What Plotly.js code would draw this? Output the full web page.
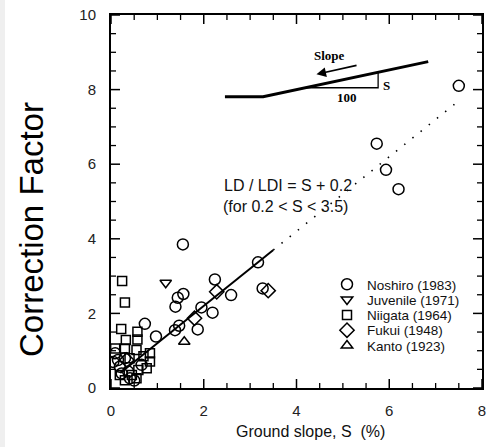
<!DOCTYPE html>
<html>
<head>
<meta charset="utf-8">
<script src="https://cdn.plot.ly/plotly-3.0.1.min.js"></script>
<style>
  html, body { margin: 0; padding: 0; background: #efefef; }
  #chart { position: absolute; left: 5px; top: 0; width: 484px; height: 447px; background: #fff; }
</style>
</head>
<body>
<div id="chart"></div>
<script>
// ---- Data ----
const noshiroX = [7.5, 5.73, 5.93, 6.2, 1.55, 3.17, 2.24, 1.56, 1.44, 1.39, 2.59, 1.95, 2.19, 3.27, 1.47, 1.38, 1.87, 0.97, 0.73, 0.09, 0.05, 0.19, 0.23, 0.37, 0.41, 0.66, 0.3, 0.15, 0.5];
const noshiroY = [8.1, 6.55, 5.85, 5.33, 3.85, 3.37, 2.91, 2.52, 2.42, 2.18, 2.49, 2.16, 2.02, 2.67, 1.67, 1.55, 1.57, 1.38, 1.72, 0.93, 0.7, 0.57, 0.39, 0.44, 0.26, 0.62, 0.8, 0.75, 0.2];

const juvenileX = [1.18];
const juvenileY = [2.82];

const niigataX = [0.24, 0.3, 0.22, 0.57, 0.32, 0.57, 0.09, 0.3, 0.55, 0.84, 0.84, 0.77, 0.59, 0.45, 0.19, 0.55, 0.3, 0.4, 0.7];
const niigataY = [2.87, 2.29, 1.58, 1.51, 1.29, 1.3, 1.06, 1.06, 1.02, 0.93, 0.71, 0.53, 0.48, 0.35, 0.35, 0.26, 0.21, 0.8, 0.85];

const fukuiX = [3.39, 2.28, 1.8, 0.34];
const fukuiY = [2.61, 2.58, 1.87, 0.75];

const kantoX = [1.58];
const kantoY = [1.24];

// LD / LDI = S + 0.2 (solid within 0.2 < S < 3.5, dotted beyond)
const fitX = [0.2, 3.5];
const fitY = [0.4, 3.7];
const extX = [3.5, 7.5];
const extY = [3.7, 7.7];

const seriesNames = ["Noshiro (1983)", "Juvenile (1971)", "Niigata (1964)", "Fukui (1948)", "Kanto (1923)"];
const xTickVals = [0, 2, 4, 6, 8];
const yTickVals = [0, 2, 4, 6, 8, 10];
const xMinorVals = [0.5, 1, 1.5, 2.5, 3, 3.5, 4.5, 5, 5.5, 6.5, 7, 7.5];
const yMinorVals = [0.5, 1, 1.5, 2.5, 3, 3.5, 4.5, 5, 5.5, 6.5, 7, 7.5, 8.5, 9, 9.5];

// ---- Plot ----
const mk = (sym, size) => ({ symbol: sym, size: size, color: "#000", line: { color: "#000", width: 1.5 } });
const legendIds = ["legend", "legend2", "legend3", "legend4", "legend5"];

const traces = [
  { x: fitX, y: fitY, mode: "lines", line: { color: "#000", width: 2 }, showlegend: false, hoverinfo: "skip" },
  { x: extX, y: extY, mode: "lines", line: { color: "#000", width: 1.6, dash: "1.5px,9px" }, showlegend: false, hoverinfo: "skip" },
  { x: noshiroX, y: noshiroY, mode: "markers", name: seriesNames[0], legend: legendIds[0], marker: mk("circle-open", 11) },
  { x: juvenileX, y: juvenileY, mode: "markers", name: seriesNames[1], legend: legendIds[1], marker: mk("triangle-down-open", 10) },
  { x: niigataX, y: niigataY, mode: "markers", name: seriesNames[2], legend: legendIds[2], marker: mk("square-open", 9) },
  { x: fukuiX, y: fukuiY, mode: "markers", name: seriesNames[3], legend: legendIds[3], marker: mk("diamond-open", 11) },
  { x: kantoX, y: kantoY, mode: "markers", name: seriesNames[4], legend: legendIds[4], marker: mk("triangle-up-open", 10) }
];

const sans = "Liberation Sans, Arial, sans-serif";
const serif = "Liberation Serif, Times New Roman, serif";

const axisCommon = {
  showgrid: false, zeroline: false, showline: true, linecolor: "#000", linewidth: 2, mirror: true,
  ticks: "", tickfont: { family: sans, size: 15, color: "#222" }, fixedrange: true
};

// inside tick marks on all four sides, drawn as pixel-length shapes anchored to the axis values
const tickShapes = [];
const addTicks = (vals, len, width) => {
  vals.forEach(v => {
    if (vals === xTickVals || vals === xMinorVals) {
      tickShapes.push({ type: "line", xref: "x", yref: "paper", ysizemode: "pixel", yanchor: 0, x0: v, x1: v, y0: 0, y1: len, line: { color: "#000", width: width } });
      tickShapes.push({ type: "line", xref: "x", yref: "paper", ysizemode: "pixel", yanchor: 1, x0: v, x1: v, y0: 0, y1: -len, line: { color: "#000", width: width } });
    } else {
      tickShapes.push({ type: "line", yref: "y", xref: "paper", xsizemode: "pixel", xanchor: 0, y0: v, y1: v, x0: 0, x1: len, line: { color: "#000", width: width } });
      tickShapes.push({ type: "line", yref: "y", xref: "paper", xsizemode: "pixel", xanchor: 1, y0: v, y1: v, x0: 0, x1: -len, line: { color: "#000", width: width } });
    }
  });
};
addTicks(xTickVals, 9, 1.5);
addTicks(yTickVals, 9, 1.5);
addTicks(xMinorVals, 5, 1.3);
addTicks(yMinorVals, 5, 1.3);

const layout = {
  width: 484, height: 447,
  margin: { l: 106, r: 7, t: 15, b: 59 },
  paper_bgcolor: "#fff", plot_bgcolor: "#fff",
  showlegend: true,
  xaxis: Object.assign({}, axisCommon, { range: [0, 8], tickvals: xTickVals, ticklabelstandoff: 8 }),
  yaxis: Object.assign({}, axisCommon, { range: [0, 10], tickvals: yTickVals, ticklabelstandoff: 10 }),
  shapes: tickShapes.concat([
    { type: "path", xref: "x", yref: "y", path: "M2.457,7.81 L3.28,7.81 L6.84,8.75", line: { color: "#000", width: 3 } },
    { type: "path", xref: "x", yref: "y", path: "M4.19,8.05 L5.76,8.05 L5.76,8.45", line: { color: "#000", width: 1.3 } }
  ]),
  annotations: [
    { text: "Correction Factor", xref: "paper", yref: "paper", x: (27 - 106) / 371, y: (388 - 230) / 373,
      xanchor: "center", yanchor: "middle", textangle: -90, showarrow: false,
      font: { family: sans, size: 33, color: "#000" } },
    { text: "Ground slope, S&nbsp;&nbsp;(%)", xref: "paper", yref: "paper", x: (305 - 106) / 371, y: (388 - 431) / 373,
      xanchor: "center", yanchor: "middle", showarrow: false,
      font: { family: sans, size: 16, color: "#111" } },
    { text: "LD / LDI = S + 0.2", xref: "x", yref: "y", x: 2.386, y: 5.44, xanchor: "left", yanchor: "middle",
      showarrow: false, font: { family: sans, size: 16, color: "#111" } },
    { text: "(for 0.2 < S < 3.5)", xref: "x", yref: "y", x: 2.37, y: 4.86, xanchor: "left", yanchor: "middle",
      showarrow: false, font: { family: sans, size: 16, color: "#111" } },
    { text: "<b>Slope</b>", xref: "x", yref: "y", x: 4.72, y: 8.91, xanchor: "center", yanchor: "middle",
      showarrow: false, font: { family: serif, size: 13, color: "#000" } },
    { text: "<b>S</b>", xref: "x", yref: "y", x: 5.82, y: 8.12, xanchor: "left", yanchor: "middle",
      showarrow: false, font: { family: serif, size: 13, color: "#000" } },
    { text: "<b>100</b>", xref: "x", yref: "y", x: 5.08, y: 7.78, xanchor: "center", yanchor: "middle",
      showarrow: false, font: { family: serif, size: 13, color: "#000" } },
    { text: "", xref: "x", yref: "y", x: 4.43, y: 8.41, ax: 41.6, ay: -9.3, axref: "pixel", ayref: "pixel",
      showarrow: true, arrowhead: 2, arrowsize: 1.2, arrowwidth: 1.6, arrowcolor: "#000" }
  ]
};

// one legend box per series so the rows can sit as tightly as in the reference
const legendLeft = (327 - 111) / 371;
const rowTop0 = (388 - 269) / 373;
const rowStep = 15.3 / 373;
legendIds.forEach((id, i) => {
  layout[id] = {
    x: legendLeft, y: rowTop0 - i * rowStep, xanchor: "left", yanchor: "top",
    bgcolor: "rgba(0,0,0,0)", borderwidth: 0,
    font: { family: sans, size: 13.5, color: "#111" }
  };
});

Plotly.newPlot("chart", traces, layout, { displayModeBar: false, staticPlot: true });
</script>
</body>
</html>
